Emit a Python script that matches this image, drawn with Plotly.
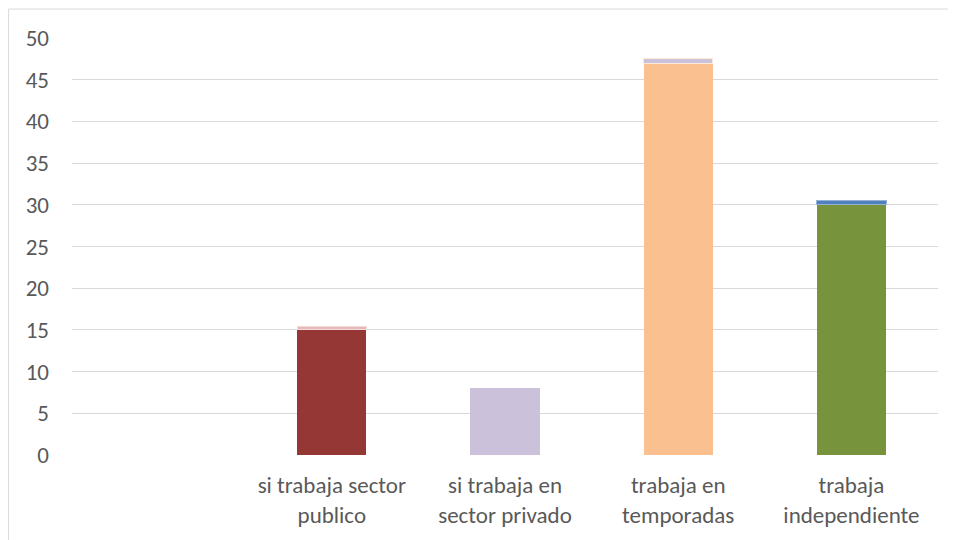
import plotly.graph_objects as go

categories = ["", "si trabaja sector<br>publico", "si trabaja en<br>sector privado", "trabaja en<br>temporadas", "trabaja<br>independiente"]
main_values = [0, 15, 8, 47, 30]
cap_values = [0, 0.35, 0, 0.55, 0.5]
main_colors = ["#953735", "#953735", "#CCC1DA", "#FAC090", "#77933C"]
cap_colors = ["#E6B9B8", "#E6B9B8", "#CCC1DA", "#CCC1DA", "#4F81BD"]
cap_lines = ["#F2DCDB", "#F2DCDB", "#CCC1DA", "#FDE9D9", "#95B3D7"]
yticks = [0, 5, 10, 15, 20, 25, 30, 35, 40, 45, 50]

x = list(range(len(categories)))
fig = go.Figure()
fig.add_bar(x=x, y=main_values, marker=dict(color=main_colors, line=dict(width=0)))
fig.add_bar(x=x, y=cap_values, marker=dict(color=cap_colors, line=dict(color=cap_lines, width=1)))

font = "Carlito, Open Sans, sans-serif"
fig.update_layout(
    width=956, height=540,
    barmode="stack", bargap=0.6, showlegend=False,
    plot_bgcolor="white", paper_bgcolor="white",
    margin=dict(l=64, r=26, t=30, b=93),
    font=dict(family=font, size=23, color="#595959"),
    xaxis=dict(tickvals=x, ticktext=categories, range=[-0.5, 4.5], showgrid=False,
               zeroline=False, showline=False, ticks="", ticklabelstandoff=14,
               tickfont=dict(size=23, color="#595959")),
    yaxis=dict(range=[0, 50], tickvals=yticks, showgrid=True, gridcolor="#D9D9D9", gridwidth=1,
               zeroline=False, showline=False, ticks="", ticklabelstandoff=22,
               tickfont=dict(size=23, color="#595959")),
    shapes=[dict(type="rect", xref="paper", yref="paper", x0=-0.0732, x1=1.0139, y0=-0.3, y1=1.0695,
                 line=dict(color="#D9D9D9", width=1), layer="below")],
)
fig.write_html("out.html")
